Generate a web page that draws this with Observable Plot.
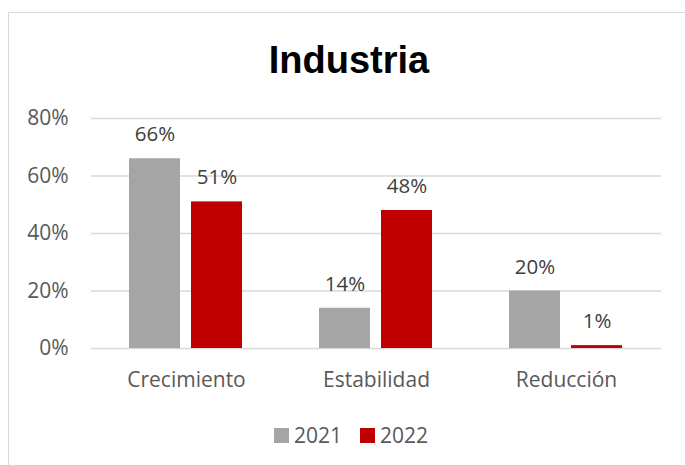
<!DOCTYPE html>
<html>
<head>
<meta charset="utf-8">
<script src="https://cdn.jsdelivr.net/npm/d3@7"></script>
<script src="https://cdn.jsdelivr.net/npm/@observablehq/plot@0.6"></script>
<style>
  html, body { margin: 0; padding: 0; background: #fff; }
  #wrap { position: relative; width: 685px; height: 465px; overflow: hidden; font-family: "Open Sans", sans-serif; }
  #frame { position: absolute; left: 8px; top: 12px; width: 700px; height: 470px; border: 1.5px solid #d9d9d9; box-sizing: border-box; }
  #title { position: absolute; left: 0; width: 698px; top: 39px; text-align: center; font-family: "Liberation Sans", Arial, sans-serif; font-weight: bold; font-size: 38px; color: #000; }
  #chart { position: absolute; left: 0; top: 95px; }
  #legend { position: absolute; top: 421px; left: 0; width: 685px; display: flex; justify-content: center; align-items: center; gap: 0; font-size: 21px; color: #595959; padding-left: 17px; box-sizing: border-box; }
  .item { display: flex; align-items: center; margin: 0 9px; }
  .sw { width: 15px; height: 15px; margin-right: 5px; }
</style>
</head>
<body>
<div id="wrap">
  <div id="frame"></div>
  <div id="title">Industria</div>
  <div id="chart"></div>
  <div id="legend"></div>
</div>
<script>
const categories = ["Crecimiento", "Estabilidad", "Reducción"];
const years = ["2021", "2022"];
const values2021 = [66, 14, 20];
const values2022 = [51, 48, 1];
const yTicks = [0, 20, 40, 60, 80];
const colors = ["#a5a5a5", "#c00000"];

const data = [];
categories.forEach((c, i) => {
  data.push({cat: c, year: years[0], value: values2021[i]});
  data.push({cat: c, year: years[1], value: values2022[i]});
});

const plot = Plot.plot({
  width: 685,
  height: 300,
  marginLeft: 90,
  marginRight: 23,
  marginTop: 23,
  marginBottom: 47,
  style: { fontFamily: "'Open Sans', sans-serif", fontSize: "21px", color: "#595959", background: "transparent" },
  fx: { domain: categories, padding: 0, label: null, tickSize: 0, tickPadding: 24 },
  x: { domain: years, paddingInner: 0.175, paddingOuter: 0.6, axis: null },
  y: { domain: [0, 80], ticks: yTicks, tickFormat: d => d + "%", tickSize: 0, tickPadding: 23, label: null },
  color: { domain: years, range: colors },
  marks: [
    Plot.gridY(yTicks, { stroke: "#d9d9d9", strokeOpacity: 1, strokeWidth: 1.5 }),
    Plot.barY(data, { fx: "cat", x: "year", y: "value", fill: "year" }),
    Plot.text(data, { fx: "cat", x: "year", y: "value", text: d => d.value + "%", dy: -24, fill: "#404040", fontSize: 20.5 })
  ]
});
document.getElementById("chart").appendChild(plot);

const legend = document.getElementById("legend");
years.forEach((y, i) => {
  const item = document.createElement("div");
  item.className = "item";
  const sw = document.createElement("div");
  sw.className = "sw";
  sw.style.background = colors[i];
  const t = document.createElement("span");
  t.textContent = y;
  item.appendChild(sw);
  item.appendChild(t);
  legend.appendChild(item);
});
</script>
</body>
</html>
